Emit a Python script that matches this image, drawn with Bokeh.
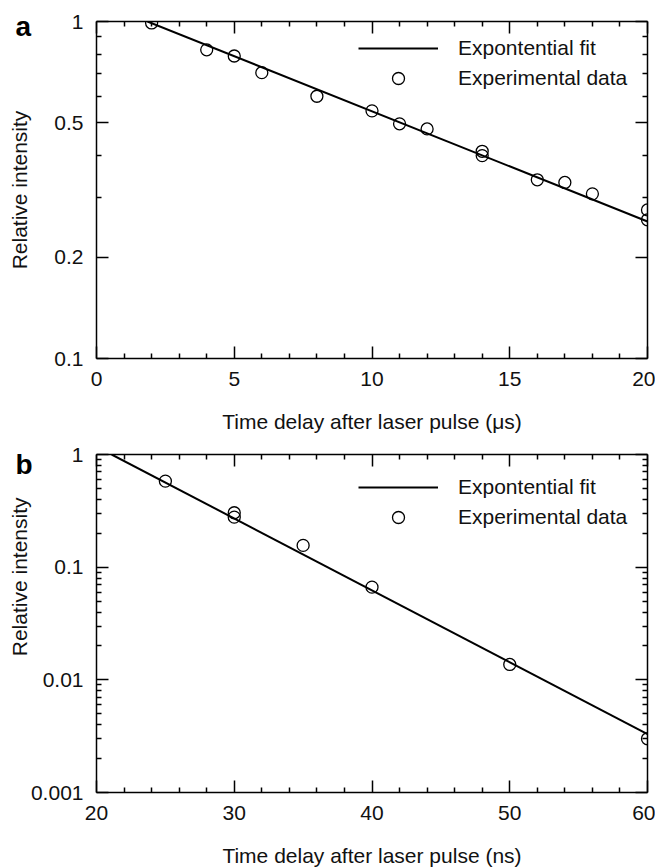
from bokeh.plotting import figure
from bokeh.models import (LinearAxis, LogAxis, FixedTicker, PrintfTickFormatter,
                          CustomJSTickFormatter, Legend, LegendItem, Title, Range1d)
from bokeh.layouts import column
from bokeh.embed import file_html
from bokeh.resources import INLINE

FONT = "Liberation Sans"
FS = "21px"

# ---------------- Panel a data (time in microseconds) ----------------
a_time = [2, 4, 5, 6, 8, 10, 11, 12, 14, 14, 16, 17, 18, 20, 20]
a_intensity = [0.99, 0.824, 0.79, 0.705, 0.60, 0.543, 0.497, 0.48, 0.412, 0.40,
               0.339, 0.333, 0.308, 0.276, 0.258]
a_fit_time = [1.85, 20]
a_fit_intensity = [1.0, 0.255]
a_x_ticks = [0, 5, 10, 15, 20]
a_x_minor = [1, 2, 3, 4, 6, 7, 8, 9, 11, 12, 13, 14, 16, 17, 18, 19]
a_y_ticks = [0.1, 0.2, 0.5, 1]
a_y_minor = [0.3, 0.4, 0.6, 0.7, 0.8, 0.9]

# ---------------- Panel b data (time in nanoseconds) ----------------
b_time = [25, 30, 30, 35, 40, 50, 60]
b_intensity = [0.58, 0.304, 0.278, 0.156, 0.0665, 0.0137, 0.0030]
b_fit_time = [21.1, 60]
b_fit_intensity = [1.0, 0.0033]
b_x_ticks = [20, 30, 40, 50, 60]
b_x_minor = [22, 24, 26, 28, 32, 34, 36, 38, 42, 44, 46, 48, 52, 54, 56, 58]
b_y_ticks = [0.001, 0.01, 0.1, 1]
b_y_minor = [m * d for d in (0.001, 0.01, 0.1) for m in range(2, 10)]

legend_labels = ["Expontential fit", "Experimental data"]
y_title = "Relative intensity"


def style_axis(ax, labels=True):
    ax.axis_line_width = 1.5
    ax.axis_line_color = "black"
    ax.major_tick_in = 12
    ax.major_tick_out = 0
    ax.minor_tick_in = 5
    ax.minor_tick_out = 0
    ax.major_tick_line_width = 1.5
    ax.minor_tick_line_width = 1.5
    ax.major_tick_line_color = "black"
    ax.minor_tick_line_color = "black"
    if labels:
        ax.major_label_text_font = FONT
        ax.major_label_text_font_size = FS
        ax.major_label_text_color = "#111111"
    else:
        ax.formatter = CustomJSTickFormatter(code="return ''")
        ax.major_label_text_font_size = "0px"
        ax.major_label_standoff = 0


def make_panel(tag, xr, yr, fh, xt, xm, yt, ym, t, inten, ft, fi, xlabel,
               mtop, mbottom, leg_xy, tag_standoff, ytitle_mode):
    p = figure(frame_width=551, frame_height=fh,
               x_range=Range1d(*xr), y_range=Range1d(*yr), y_axis_type="log",
               output_backend="svg", toolbar_location=None,
               min_border_left=96, min_border_right=8,
               min_border_top=mtop, min_border_bottom=mbottom)
    p.xgrid.visible = False
    p.ygrid.visible = False
    p.outline_line_color = None
    p.background_fill_color = "white"
    p.border_fill_color = "white"

    xa = p.xaxis[0]
    xa.ticker = FixedTicker(ticks=xt, minor_ticks=xm)
    style_axis(xa)
    xa.major_label_standoff = 13
    xa.axis_label = xlabel
    xa.axis_label_text_font = FONT
    xa.axis_label_text_font_size = FS
    xa.axis_label_text_font_style = "normal"
    xa.axis_label_text_color = "#111111"
    xa.axis_label_standoff = 21

    ya = p.yaxis[0]
    ya.ticker = FixedTicker(ticks=yt, minor_ticks=ym)
    ya.formatter = PrintfTickFormatter(format="%g")
    style_axis(ya)
    ya.major_label_standoff = 13

    if ytitle_mode[0] == "axis":
        ya.axis_label = y_title
        ya.axis_label_text_font = FONT
        ya.axis_label_text_font_size = FS
        ya.axis_label_text_font_style = "normal"
        ya.axis_label_text_color = "#111111"
        ya.axis_label_standoff = ytitle_mode[1]

    top = LinearAxis(ticker=FixedTicker(ticks=xt, minor_ticks=xm))
    style_axis(top, labels=False)
    p.add_layout(top, "above")
    right = LogAxis(ticker=FixedTicker(ticks=yt, minor_ticks=ym))
    style_axis(right, labels=False)
    p.add_layout(right, "right")

    line_r = p.line(ft, fi, line_color="black", line_width=2)
    pts_r = p.scatter(t, inten, marker="circle", size=12, fill_color=None,
                      line_color="black", line_width=1.3)

    legend = Legend(items=[LegendItem(label=legend_labels[0], renderers=[line_r]),
                           LegendItem(label=legend_labels[1], renderers=[pts_r])],
                    location=leg_xy, glyph_width=80, glyph_height=30,
                    label_height=30, label_standoff=20, spacing=0, padding=0,
                    margin=0, border_line_color=None, background_fill_alpha=0,
                    label_text_font=FONT, label_text_font_size=FS,
                    label_text_color="#111111")
    p.add_layout(legend)

    p.add_layout(Title(text=tag, align="left", offset=-81, standoff=tag_standoff,
                       vertical_align="bottom", text_font=FONT,
                       text_font_size="28px", text_font_style="bold",
                       text_color="black"), "above")

    if ytitle_mode[0] == "title":
        p.add_layout(Title(text=y_title, align="right", offset=ytitle_mode[1],
                           standoff=ytitle_mode[2], vertical_align="bottom",
                           text_font=FONT, text_font_size=FS,
                           text_font_style="normal", text_color="#111111"), "left")
    return p


pa = make_panel("a", (0, 20), (0.1, 1), 337, a_x_ticks, a_x_minor, a_y_ticks, a_y_minor,
                a_time, a_intensity, a_fit_time, a_fit_intensity,
                "Time delay after laser pulse (\u03bcs)", 21, 82, (262, 265), -40,
                ("axis", 20))
pb = make_panel("b", (20, 60), (0.001, 1), 338, b_x_ticks, b_x_minor, b_y_ticks, b_y_minor,
                b_time, b_intensity, b_fit_time, b_fit_intensity,
                "Time delay after laser pulse (ns)", 14, 76, (262, 260), -50,
                ("title", 43, -6))

layout = column(pa, pb, spacing=0)
open("out.html", "w").write(file_html(layout, INLINE))
